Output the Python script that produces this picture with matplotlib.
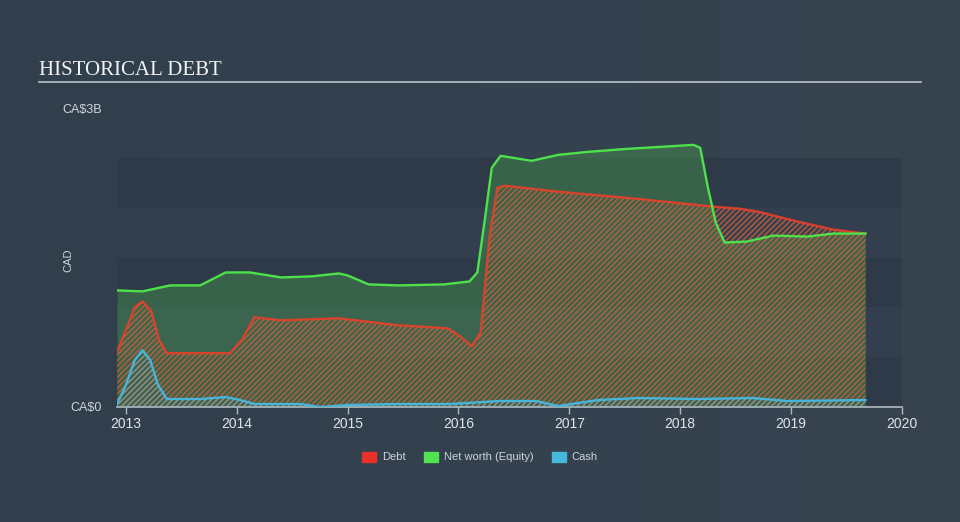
import numpy as np
import matplotlib.pyplot as plt
from matplotlib.patches import Patch
from matplotlib.colors import LinearSegmentedColormap

# values in CA$ billions, dates as decimal years
debt_t = [2012.92, 2013.0, 2013.08, 2013.15, 2013.23, 2013.3, 2013.37, 2013.6, 2013.94, 2014.05,
          2014.16, 2014.4, 2014.92, 2015.46, 2015.9, 2016.0, 2016.12, 2016.2, 2016.28, 2016.35,
          2016.42, 2016.9, 2017.6, 2018.3, 2018.53, 2018.7, 2019.06, 2019.38, 2019.67]
debt_v = [0.55, 0.77, 1.0, 1.06, 0.96, 0.67, 0.54, 0.54, 0.54, 0.68,
          0.9, 0.87, 0.89, 0.82, 0.79, 0.72, 0.61, 0.75, 1.7, 2.2,
          2.22, 2.16, 2.09, 2.01, 1.99, 1.96, 1.86, 1.78, 1.74]

equity_t = [2012.92, 2013.15, 2013.4, 2013.67, 2013.9, 2014.12, 2014.4, 2014.67, 2014.92, 2015.0,
            2015.19, 2015.46, 2015.87, 2016.1, 2016.17, 2016.24, 2016.3, 2016.38, 2016.66, 2016.9,
            2017.17, 2017.52, 2018.12, 2018.18, 2018.25, 2018.32, 2018.4, 2018.6, 2018.84, 2019.15,
            2019.38, 2019.67]
equity_v = [1.17, 1.16, 1.22, 1.22, 1.35, 1.35, 1.30, 1.31, 1.34, 1.32,
            1.23, 1.22, 1.23, 1.26, 1.35, 1.9, 2.4, 2.52, 2.47, 2.53,
            2.56, 2.59, 2.63, 2.6, 2.2, 1.85, 1.65, 1.66, 1.72, 1.71,
            1.74, 1.74]

cash_t = [2012.92, 2013.0, 2013.08, 2013.15, 2013.22, 2013.29, 2013.37, 2013.67, 2013.9, 2014.03,
          2014.16, 2014.57, 2014.76, 2015.0, 2015.46, 2015.92, 2016.37, 2016.7, 2016.9, 2017.26,
          2017.62, 2018.16, 2018.65, 2018.97, 2019.67]
cash_v = [0.03, 0.22, 0.47, 0.57, 0.47, 0.22, 0.08, 0.08, 0.1, 0.07,
          0.03, 0.03, 0.0, 0.02, 0.03, 0.03, 0.06, 0.06, 0.01, 0.07,
          0.09, 0.08, 0.09, 0.06, 0.07]

years = [2013, 2014, 2015, 2016, 2017, 2018, 2019, 2020]

plt.rcParams["hatch.linewidth"] = 1.2
plt.rcParams["font.family"] = ["Liberation Sans", "DejaVu Sans"]

fig = plt.figure(figsize=(9.6, 5.22), dpi=100)

# background gradient
bg = fig.add_axes([0, 0, 1, 1], zorder=-10)
grad = np.linspace(0, 1, 256).reshape(1, -1)
grad = np.vstack([grad, grad])
cmap = LinearSegmentedColormap.from_list("bg", ["#313e4c", "#374450"])
bg.imshow(grad, aspect="auto", cmap=cmap, extent=[0, 1, 0, 1])
bg.axis("off")

ax = fig.add_axes([117 / 960, 115 / 522, 785 / 960, 299 / 522])
ax.set_facecolor("none")
ax.set_xlim(2012.92, 2020.0)
ax.set_ylim(0, 3)

# horizontal bands
band_colors = ["#2e3a48", "#333f4e"]
for i in range(5):
    ax.axhspan(i * 0.5, (i + 1) * 0.5, color=band_colors[i % 2], lw=0, zorder=0)

# net worth
ax.fill_between(equity_t, equity_v, 0, color="#50c050", alpha=0.3, lw=0, zorder=1)
# debt
ax.fill_between(debt_t, debt_v, 0, facecolor="none", edgecolor="#d0603a", hatch="//////",
                lw=0, alpha=0.75, zorder=2)
# cash
ax.fill_between(cash_t, cash_v, 0, facecolor="none", edgecolor="#6ab8d0", hatch="//////",
                lw=0, alpha=0.5, zorder=3)

ax.plot(debt_t, debt_v, color="#e8402a", lw=1.7, zorder=4, alpha=0.9)
ax.plot(equity_t, equity_v, color="#4ee24a", lw=1.7, zorder=5)
ax.plot(cash_t, cash_v, color="#47b5da", lw=1.7, zorder=6)

for s in ["top", "right", "left"]:
    ax.spines[s].set_visible(False)
ax.spines["bottom"].set_color("#b0b8c0")
ax.spines["bottom"].set_linewidth(1.2)

ax.set_xticks(years)
ax.set_xticklabels([str(y) for y in years])
ax.tick_params(axis="x", colors="#b0b8c0", length=5, width=1, labelsize=10,
               labelcolor="#e0e4e8", pad=2)
ax.set_yticks([0, 3])
ax.set_yticklabels(["CA$0", "CA$3B"])
ax.tick_params(axis="y", length=0, labelsize=9, labelcolor="#d0d5da", pad=10.8)
ax.set_ylabel("CAD", color="#d0d5da", fontsize=8)
ax.yaxis.set_label_coords(-0.055, 0.49)

# title and rule
fig.text(39 / 960, 1 - 75 / 522, "HISTORICAL DEBT", family="Liberation Serif",
         fontsize=15, color="#f0f2f4", va="baseline")
fig.add_artist(plt.Line2D([39 / 960, 921 / 960], [1 - 82 / 522, 1 - 82 / 522],
                          color="#b0b8c0", lw=1.3))

handles = [Patch(color="#e8312a", label="Debt"),
           Patch(color="#4fe34f", label="Net worth (Equity)"),
           Patch(color="#45b8dc", label="Cash")]
leg = fig.legend(handles=handles, loc="center", bbox_to_anchor=(0.5, 1 - 457 / 522), ncol=3,
                 frameon=False, fontsize=8, handlelength=1.2, handleheight=1.0,
                 columnspacing=1.7, handletextpad=0.55)
for t in leg.get_texts():
    t.set_color("#d0d5da")

fig.savefig("out.png", dpi=100)
